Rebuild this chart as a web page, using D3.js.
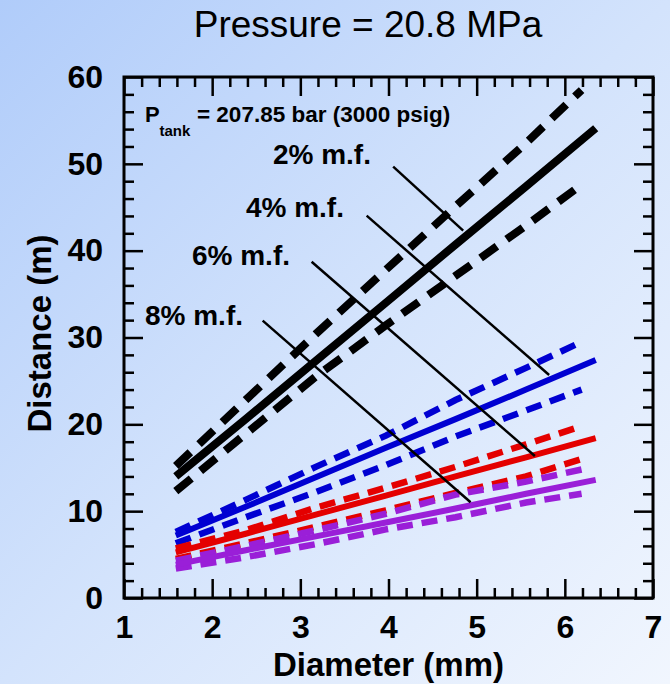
<!DOCTYPE html>
<html>
<head>
<meta charset="utf-8">
<script src="https://cdn.jsdelivr.net/npm/d3@7"></script>
<style>
  html, body { margin: 0; padding: 0; overflow: hidden; }
  svg { display: block; font-family: "Liberation Sans", Arial, Helvetica, sans-serif; }
</style>
</head>
<body>
<div id="chart"></div>
<script>
// Nozzle diameters (mm) for the mean curves: 1/16" to 1/4"
const diameters = [1.5875, 2.38, 3.175, 3.97, 4.76, 5.56, 6.35];
// Diameters (mm) at which the bound curves are plotted
const boundDiameters = [1.5875, 2.38, 3.175, 3.97, 4.76, 5.56, 6.19];

// Flammable-envelope distance (m) for each mass fraction: mean and bounds
const mf2Mean  = [14.0, 20.6, 27.3, 34.0, 40.7, 47.4, 54.1];
const mf2Upper = [15.2, 22.8, 30.4, 37.8, 45.1, 52.4, 58.5];
const mf2Lower = [12.3, 18.9, 25.5, 31.4, 37.1, 42.9, 47.6];

const mf4Mean  = [7.2, 10.5, 13.9, 17.3, 20.6, 24.0, 27.4];
const mf4Upper = [7.6, 11.3, 15.1, 18.7, 22.8, 26.5, 29.5];
const mf4Lower = [6.3, 9.3, 12.2, 15.3, 18.6, 21.6, 24.0];

const mf6Mean  = [5.25, 7.4, 9.6, 11.8, 14.0, 16.2, 18.4];
const mf6Upper = [5.7, 7.8, 10.4, 12.7, 15.1, 17.7, 19.8];
const mf6Lower = [4.5, 6.3, 8.2, 10.1, 12.1, 14.0, 16.0];

const mf8Mean  = [3.85, 5.5, 7.1, 8.7, 10.3, 12.0, 13.6];
const mf8Upper = [4.3, 6.0, 7.8, 9.7, 11.9, 13.4, 14.8];
const mf8Lower = [3.4, 4.7, 6.2, 7.9, 9.3, 11.0, 12.0];

// Axis ticks
const xMajorTicks = [1, 2, 3, 4, 5, 6, 7];
const yMajorTicks = [0, 10, 20, 30, 40, 50, 60];

// Curve labels and their leader lines (data coordinates)
const curveLabels = ["2% m.f.", "4% m.f.", "6% m.f.", "8% m.f."];
const labelAnchorX = [2.689, 2.383, 1.771, 1.238];
const labelAnchorY = [49.98, 43.88, 38.35, 31.44];
const leaderStartX = [4.053, 3.752, 3.128, 2.573];
const leaderStartY = [49.67, 44.03, 38.73, 31.94];
const leaderEndX   = [4.847, 5.822, 5.660, 4.931];
const leaderEndY   = [42.30, 25.68, 16.35, 11.02];

const W = 670, H = 684;
const svg = d3.select("#chart").append("svg")
  .attr("width", W).attr("height", H);

const defs = svg.append("defs");
const grad = defs.append("linearGradient").attr("id", "bg")
  .attr("x1", "0").attr("y1", "0").attr("x2", "1").attr("y2", "1");
grad.append("stop").attr("offset", "0%").attr("stop-color", "#b0ccfa");
grad.append("stop").attr("offset", "50%").attr("stop-color", "#d3e3fc");
grad.append("stop").attr("offset", "100%").attr("stop-color", "#f1f6fe");
svg.append("rect").attr("width", W).attr("height", H).attr("fill", "url(#bg)");

const x = d3.scaleLinear().domain([1, 7]).range([124, 653]);
const y = d3.scaleLinear().domain([0, 60]).range([598, 77]);

defs.append("clipPath").attr("id", "plotClip").append("rect")
  .attr("x", x(1)).attr("y", y(60))
  .attr("width", x(7) - x(1)).attr("height", y(0) - y(60));

// Title
svg.append("text")
  .attr("x", 368).attr("y", 37)
  .attr("text-anchor", "middle")
  .attr("font-size", 37)
  .attr("fill", "#000")
  .text("Pressure = 20.8 MPa");

// Series
const groups = [
  { color: "#000000", mean: mf2Mean, upper: mf2Upper, lower: mf2Lower, w: 8, dw: 8, dash: "20,12" },
  { color: "#0000d2", mean: mf4Mean, upper: mf4Upper, lower: mf4Lower, w: 6, dw: 6.5, dash: "16,9" },
  { color: "#e40000", mean: mf6Mean, upper: mf6Upper, lower: mf6Lower, w: 6, dw: 6.5, dash: "16,9" },
  { color: "#9a1fd8", mean: mf8Mean, upper: mf8Upper, lower: mf8Lower, w: 6, dw: 6.5, dash: "16,9" }
];

const line = d3.line()
  .x(d => x(d[0]))
  .y(d => y(d[1]));

const plot = svg.append("g").attr("clip-path", "url(#plotClip)");

groups.forEach(g => {
  [g.upper, g.lower].forEach(vals => {
    plot.append("path")
      .datum(boundDiameters.map((d, i) => [d, vals[i]]))
      .attr("d", line)
      .attr("fill", "none")
      .attr("stroke", g.color)
      .attr("stroke-width", g.dw)
      .attr("stroke-dasharray", g.dash)
      .attr("stroke-linecap", "butt");
  });
  plot.append("path")
    .datum(diameters.map((d, i) => [d, g.mean[i]]))
    .attr("d", line)
    .attr("fill", "none")
    .attr("stroke", g.color)
    .attr("stroke-width", g.w)
    .attr("stroke-linecap", "butt");
});

// Leader lines and labels
curveLabels.forEach((t, i) => {
  svg.append("line")
    .attr("x1", x(leaderStartX[i])).attr("y1", y(leaderStartY[i]))
    .attr("x2", x(leaderEndX[i])).attr("y2", y(leaderEndY[i]))
    .attr("stroke", "#000").attr("stroke-width", 2.5);
  svg.append("text")
    .attr("x", x(labelAnchorX[i])).attr("y", y(labelAnchorY[i]))
    .attr("font-size", 28).attr("font-weight", "bold")
    .attr("fill", "#000")
    .text(t);
});

// Tank pressure note
const noteX = x(1.238), noteY = y(54.82);
svg.append("text").attr("x", noteX).attr("y", noteY)
  .attr("font-size", 22).attr("font-weight", "bold").text("P");
svg.append("text").attr("x", noteX + 14.5).attr("y", noteY + 14)
  .attr("font-size", 15).attr("font-weight", "bold").text("tank");
svg.append("text").attr("x", noteX + 52).attr("y", noteY)
  .attr("font-size", 22.5).attr("font-weight", "bold").text("= 207.85 bar (3000 psig)");

// Axes with inward ticks
const xMinorTicks = d3.range(1, 7.001, 0.2).filter(v => Math.abs(v - Math.round(v)) > 1e-6);
const yMinorTicks = d3.range(0, 60.001, 2).filter(v => v % 10 !== 0);

function styleAxis(g) {
  g.select(".domain").remove();
  g.attr("font-family", null);
  g.selectAll(".tick line").attr("stroke", "#000").attr("stroke-width", 2.5);
  g.selectAll(".tick text")
    .attr("font-size", 32).attr("font-weight", "bold").attr("fill", "#000");
}

const fmt = d3.format("d");
// bottom
svg.append("g").attr("transform", `translate(0,${y(0)})`)
  .call(d3.axisBottom(x).tickValues(xMajorTicks).tickSize(-19).tickPadding(17).tickFormat(fmt))
  .call(styleAxis);
svg.append("g").attr("transform", `translate(0,${y(0)})`)
  .call(d3.axisBottom(x).tickValues(xMinorTicks).tickSize(-10).tickFormat(""))
  .call(styleAxis);
// top
svg.append("g").attr("transform", `translate(0,${y(60)})`)
  .call(d3.axisTop(x).tickValues(xMajorTicks).tickSize(-19).tickFormat(""))
  .call(styleAxis);
svg.append("g").attr("transform", `translate(0,${y(60)})`)
  .call(d3.axisTop(x).tickValues(xMinorTicks).tickSize(-10).tickFormat(""))
  .call(styleAxis);
// left
svg.append("g").attr("transform", `translate(${x(1)},0)`)
  .call(d3.axisLeft(y).tickValues(yMajorTicks).tickSize(-19).tickPadding(21).tickFormat(fmt))
  .call(styleAxis);
svg.append("g").attr("transform", `translate(${x(1)},0)`)
  .call(d3.axisLeft(y).tickValues(yMinorTicks).tickSize(-10).tickFormat(""))
  .call(styleAxis);
// right
svg.append("g").attr("transform", `translate(${x(7)},0)`)
  .call(d3.axisRight(y).tickValues(yMajorTicks).tickSize(-19).tickFormat(""))
  .call(styleAxis);
svg.append("g").attr("transform", `translate(${x(7)},0)`)
  .call(d3.axisRight(y).tickValues(yMinorTicks).tickSize(-10).tickFormat(""))
  .call(styleAxis);

// Frame
svg.append("rect")
  .attr("x", x(1)).attr("y", y(60))
  .attr("width", x(7) - x(1)).attr("height", y(0) - y(60))
  .attr("fill", "none").attr("stroke", "#000").attr("stroke-width", 3);

// Axis titles
svg.append("text")
  .attr("x", (x(1) + x(7)) / 2).attr("y", 676)
  .attr("text-anchor", "middle")
  .attr("font-size", 33).attr("font-weight", "bold")
  .text("Diameter (mm)");
svg.append("text")
  .attr("transform", `translate(51,${(y(0) + y(60)) / 2 - 4}) rotate(-90)`)
  .attr("text-anchor", "middle")
  .attr("font-size", 33).attr("font-weight", "bold")
  .text("Distance (m)");
</script>
</body>
</html>
